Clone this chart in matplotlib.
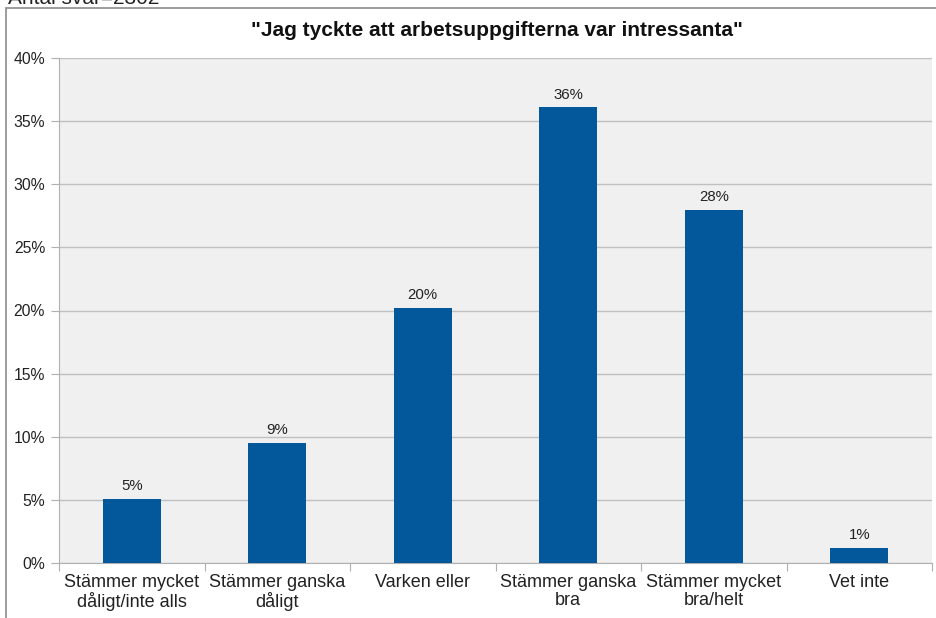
import matplotlib
matplotlib.use('Agg')
import matplotlib.pyplot as plt
import numpy as np
from matplotlib.patches import Rectangle

plt.rcParams['font.family'] = ['Liberation Sans', 'DejaVu Sans']

categories = ['Stämmer mycket\ndåligt/inte alls', 'Stämmer ganska\ndåligt', 'Varken eller',
              'Stämmer ganska\nbra', 'Stämmer mycket\nbra/helt', 'Vet inte']
values = [5.1, 9.5, 20.2, 36.1, 28.0, 1.2]
labels = ['5%', '9%', '20%', '36%', '28%', '1%']
yticks = [0, 5, 10, 15, 20, 25, 30, 35, 40]

fig = plt.figure(figsize=(9.36, 6.18), dpi=100)

# outer chart frame
fig.patches.append(Rectangle((6 / 936, -0.01), 1.0, 1 - 8 / 618 + 0.01, transform=fig.transFigure,
                             fill=False, edgecolor='#8c8c8c', linewidth=1.2))
fig.text(8 / 936, 1 + 1 / 618, 'Antal svar=2302', fontsize=15, ha='left', va='center', color='#222222')

ax = fig.add_axes([59 / 936, 1 - 563 / 618, (932 - 59) / 936, (563 - 58) / 618])
ax.set_facecolor('#f0f0f0')

x = np.arange(len(categories))
ax.bar(x, values, width=0.4, color='#03589c', zorder=3)
for xi, v, lab in zip(x, values, labels):
    ax.text(xi, v + 0.45, lab, ha='center', va='bottom', fontsize=10.8, color='#222222')

ax.set_xlim(-0.5, len(categories) - 0.5)
ax.set_ylim(0, 40)
ax.set_yticks(yticks)
ax.set_yticklabels([f'{t}%' for t in yticks], fontsize=11.3, color='#222222')
ax.set_xticks(np.arange(-0.5, len(categories), 1.0))
ax.set_xticklabels([])
ax.set_xticks(x, minor=True)
ax.set_xticklabels(categories, minor=True, fontsize=13, color='#222222', linespacing=1.05)
ax.tick_params(axis='x', which='minor', length=0, pad=8)
ax.tick_params(axis='x', which='major', length=6, color='#b0b0b0')
ax.tick_params(axis='y', length=6, color='#b0b0b0', pad=4)
ax.grid(axis='y', color='#c0c0c0', linewidth=1, zorder=0)
for s in ['top', 'right']:
    ax.spines[s].set_visible(False)
for s in ['left', 'bottom']:
    ax.spines[s].set_color('#b0b0b0')

fig.text(497 / 936, 1 - 31 / 618, '"Jag tyckte att arbetsuppgifterna var intressanta"',
         ha='center', va='center', fontsize=15, fontweight='bold', color='#111111')

fig.savefig('out.png', dpi=100)
